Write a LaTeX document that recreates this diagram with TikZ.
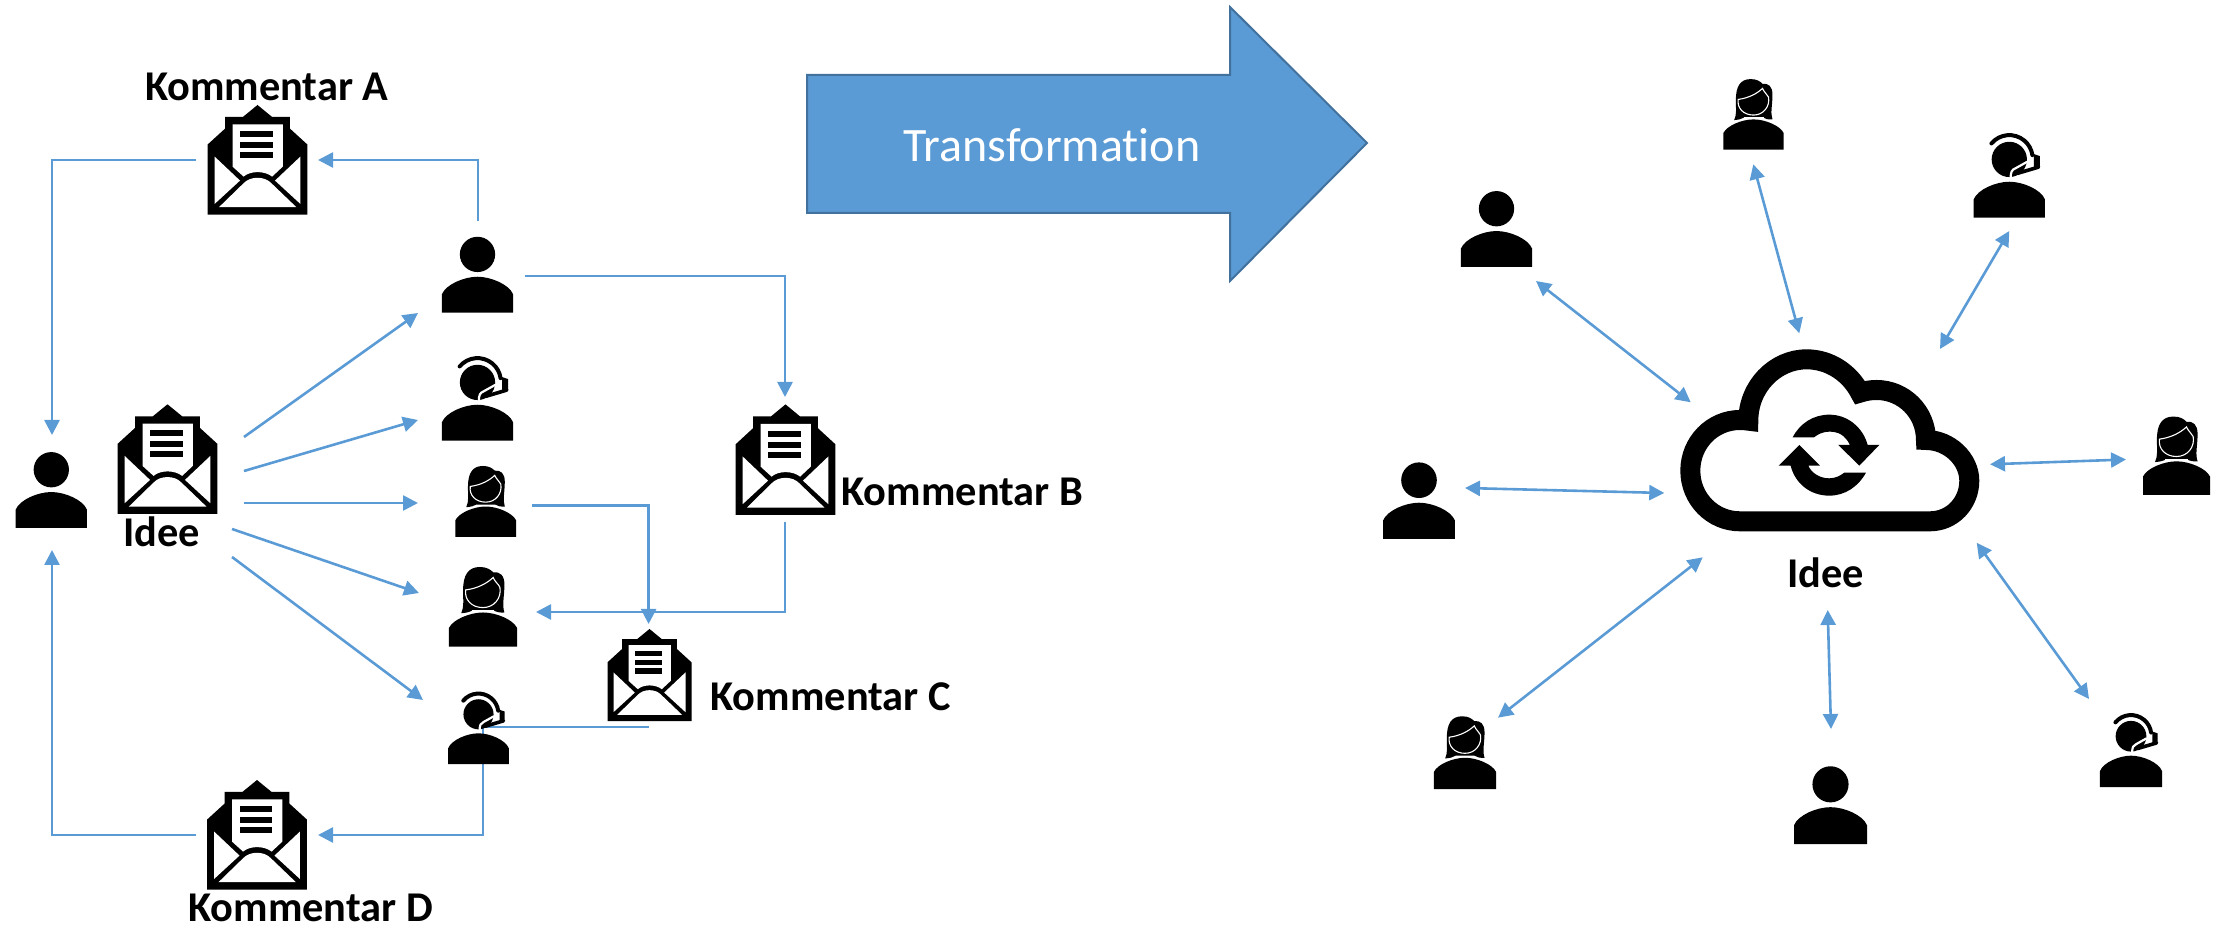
\documentclass[tikz,border=0pt]{standalone}
\usepackage{fontspec}
\setmainfont{Carlito}[Ligatures=NoCommon]
\usetikzlibrary{arrows.meta,positioning}
\definecolor{LinkBlue}{HTML}{5B9BD5}
\definecolor{EdgeBlue}{HTML}{41719C}
\tikzset{
    link/.style={draw=LinkBlue,line width=1.3pt,-{Triangle[length=7.5pt,width=7.5pt]}},
    dlink/.style={draw=LinkBlue,line width=1.3pt,{Triangle[length=7.5pt,width=7.5pt]}-{Triangle[length=7.5pt,width=7.5pt]}},
    plain/.style={draw=LinkBlue,line width=1.3pt},
    label/.style={anchor=base west,inner sep=0pt,font=\fontsize{21.2}{25}\selectfont\bfseries},
    person/.pic={
        \fill[black] (0,-175) circle (53);
        \fill[black] (-107,0) -- (-107,-55) .. controls (-95,-85) and (-40,-108) .. (0,-108)
            .. controls (40,-108) and (95,-85) .. (107,-55) -- (107,0) -- cycle;
    },
    agent/.pic={
        \fill[black] (0,-175) circle (53);
        \draw[white,line width=1.1pt] (54,-168) -- (18,-148) .. controls (8,-144) and (4,-138) .. (4,-118);
        \draw[black,line width=2pt,line cap=round] (0,-178) ++(220:70) arc[start angle=220,end angle=352,radius=70];
        \fill[black] (74,-191) -- (92,-185) -- (92,-150) -- (74,-145) -- cycle;
        \draw[black,line width=1.8pt,line cap=round] (88,-152) -- (24,-133);
        \fill[black] (-107,0) -- (-107,-55) .. controls (-95,-85) and (-40,-108) .. (0,-108)
            .. controls (40,-108) and (95,-85) .. (107,-55) -- (107,0) -- cycle;
    },
    woman/.pic={
        \fill[black] (-58,-89) .. controls (-50,-105) and (-53,-125) .. (-53,-149)
            .. controls (-53,-190) and (-40,-212) .. (-8,-212)
            .. controls (10,-212) and (20,-205) .. (27,-198)
            .. controls (45,-200) and (57,-190) .. (57,-165)
            .. controls (57,-135) and (50,-110) .. (57,-91)
            .. controls (45,-90) and (35,-92) .. (28,-97) -- (-28,-97)
            .. controls (-35,-92) and (-45,-90) .. (-58,-89) -- cycle;
        \draw[white,line width=.55pt,fill=black] (-46,-151) .. controls (-15,-155) and (10,-168) .. (27,-184)
            .. controls (32,-172) and (40,-168) .. (45,-158)
            .. controls (50,-130) and (30,-104) .. (0,-104)
            .. controls (-30,-104) and (-50,-125) .. (-46,-151) -- cycle;
        \fill[white] (-30,-97) -- (30,-97) -- (30,-88) -- (-30,-88) -- cycle;
        \fill[black] (-90.5,0) -- (-90.5,-50) .. controls (-80,-72) and (-35,-91) .. (0,-91)
            .. controls (35,-91) and (80,-72) .. (90.5,-50) -- (90.5,0) -- cycle;
    },
    letter/.pic={
        \fill[black] (0,0) -- (41,36) -- (91,36) -- (91,71) -- (140,119) -- (140,329) -- (-140,329)
            -- (-140,119) -- (-91,71) -- (-91,36) -- (-41,36) -- cycle;
        \fill[white] (-70,58) -- (71,58) -- (71,185) -- (41,215) .. controls (20,197) and (-20,197) .. (-39,215)
            -- (-70,185) -- cycle;
        \fill[white] (-120,155) -- (-49,227) -- (-120,297) -- cycle;
        \fill[white] (120,155) -- (49,227) -- (120,297) -- cycle;
        \fill[white] (-108,307) -- (-39,235) .. controls (-20,213) and (20,213) .. (39,235) -- (109,307) -- cycle;
        \fill[black] (-49,78) rectangle (43,96);
        \fill[black] (-49,111) rectangle (43,129);
        \fill[black] (-49,141) rectangle (43,159);
    },
}

\begin{document}
\begin{tikzpicture}[x=0.5pt,y=-0.5pt]

    \useasboundingbox (0,0) rectangle (2224,930);

    % big arrow
    \filldraw[draw=EdgeBlue,fill=LinkBlue,line width=1pt]
        (807,75) -- (1230,75) -- (1230,7) -- (1367,143) -- (1230,281) -- (1230,213) -- (807,213) -- cycle;
    \node[text=white,font=\fontsize{24}{28}\selectfont,inner sep=0pt] (transText) at (1052,145) {Transformation};

    % free ends on the left
    \coordinate (ideaA) at (244,437);
    \coordinate (ideaB) at (244,471);
    \coordinate (ideaC) at (244,503);
    \coordinate (ideaD) at (232,529);
    \coordinate (ideaE) at (232,557);
    \coordinate (tipA) at (418,313);
    \coordinate (tipB) at (418,420);
    \coordinate (tipC) at (418,503);
    \coordinate (tipD) at (419,593);
    \coordinate (tipE) at (423,700);
    \coordinate (outA) at (196,160);
    \coordinate (inA) at (318,160);
    \coordinate (backA) at (52,435);
    \coordinate (outD) at (196,835);
    \coordinate (inD) at (318,835);
    \coordinate (backD) at (52,550);
    \coordinate (topUp) at (478,221);
    \coordinate (topRight) at (525,276);
    \coordinate (inB) at (785,397);
    \coordinate (outB) at (785,522);
    \coordinate (inW) at (536,612);
    \coordinate (womanOut) at (532,505.5);
    \coordinate (inC) at (648.6,624);
    \coordinate (outC) at (648.6,727);
    \coordinate (lowBend) at (483,727);

    % fan from the idea
    \draw[link] (ideaA) -- (tipA);
    \draw[link] (ideaB) -- (tipB);
    \draw[link] (ideaC) -- (tipC);
    \draw[link] (ideaD) -- (tipD);
    \draw[link] (ideaE) -- (tipE);

    % comment routes
    \draw[link] (outA) -| (backA);
    \draw[link] (topUp) |- (inA);
    \draw[link] (topRight) -| (inB);
    \draw[link] (outB) |- (inW);
    \draw[link] (womanOut) -| (inC);
    \draw[plain] (outC) -- (lowBend);
    \draw[link] (lowBend) |- (inD);
    \draw[link] (outD) -| (backD);

    % icons on the left
    \pic[scale=.333] (personIn) at (51.3,528) {person};
    \pic[scale=.333] (personTop) at (477.5,312.7) {person};
    \pic[scale=.333] (agentTop) at (477.5,440.7) {agent};
    \pic[scale=.335] (womanTop) at (485.7,537) {woman};
    \pic[scale=.376] (womanLow) at (483,646.7) {woman};
    \pic[scale=.284] (agentLow) at (478.5,764) {agent};
    \pic[xscale=.357,yscale=.333] (letterIdea) at (167.5,404.3) {letter};
    \pic[xscale=.357,yscale=.333] (letterA) at (257.5,105) {letter};
    \pic[xscale=.357,yscale=.336] (letterB) at (785.5,404.4) {letter};
    \pic[xscale=.3,yscale=.28] (letterC) at (649.5,629) {letter};
    \pic[xscale=.357,yscale=.333] (letterD) at (257,780) {letter};

    % labels on the left
    \node[label] (textA) at (144.6,100.7) {Kommentar A};
    \node[label] (textB) at (841,505.5) {Kommentar B};
    \node[label] (textC) at (710,711) {Kommentar C};
    \node[label] (textD) at (188,921.7) {Kommentar D};
    \node[label] (textIdea) at (123,546.7) {Idee};

    % cloud
    \begin{scope}[shift={(1600,320)},scale=.3333]
        \draw[black,line width=10pt] (420,604) -- (990,604) .. controls (1056,604) and (1108,550) .. (1108,482)
            .. controls (1108,418) and (1048,360) .. (978,360)
            .. controls (978,275) and (910,210) .. (830,210) .. controls (812,210) and (795,213) .. (780,218)
            .. controls (750,160) and (690,118) .. (620,118) .. controls (525,118) and (445,200) .. (445,302)
            .. controls (430,300) and (425,300) .. (420,300)
            .. controls (337,300) and (271,368) .. (271,452) .. controls (271,536) and (337,604) .. (420,604) -- cycle;
        \fill[black] (578,352) .. controls (600,310) and (640,284) .. (688,284)
            .. controls (745,284) and (790,325) .. (803,375) -- (838,375) -- (778,437) -- (715,375) -- (750,375)
            .. controls (735,345) and (715,335) .. (688,335) .. controls (670,335) and (655,342) .. (642,352) -- cycle;
        \fill[black] (798,458) .. controls (775,500) and (735,527) .. (688,527)
            .. controls (630,527) and (585,490) .. (572,437) -- (536,437) -- (598,375) -- (660,437) -- (625,437)
            .. controls (635,460) and (660,475) .. (688,475) .. controls (705,475) and (720,468) .. (733,458) -- cycle;
    \end{scope}
    \node[label] (textCloud) at (1787,588) {Idee};

    % icons on the right
    \pic[scale=.333] (womanA) at (1753.5,149.7) {woman};
    \pic[scale=.333] (agentA) at (2009.3,217.7) {agent};
    \pic[scale=.333] (personA) at (1496.5,267) {person};
    \pic[scale=.336] (personB) at (1419,539) {person};
    \pic[scale=.37] (womanB) at (2176.5,495) {woman};
    \pic[scale=.343] (womanC) at (1465,789) {woman};
    \pic[scale=.341] (personC) at (1830.5,844) {person};
    \pic[scale=.29] (agentB) at (2131,787) {agent};

    % free ends on the right
    \coordinate (womanAend) at (1753.3,164.3);
    \coordinate (womanAcloud) at (1799.3,333.3);
    \coordinate (agentAend) at (2009.3,231);
    \coordinate (agentAcloud) at (1940,349);
    \coordinate (personAend) at (1536,281);
    \coordinate (personAcloud) at (1690.7,402.3);
    \coordinate (personBend) at (1465,488);
    \coordinate (personBcloud) at (1664.3,493);
    \coordinate (womanBend) at (2126,459.5);
    \coordinate (womanBcloud) at (1990,464.3);
    \coordinate (womanCend) at (1498,717.7);
    \coordinate (womanCcloud) at (1702.7,557.3);
    \coordinate (personCend) at (1831,729);
    \coordinate (personCcloud) at (1827.7,610);
    \coordinate (agentBend) at (2089,699);
    \coordinate (agentBcloud) at (1976.7,542.7);

    % links to the cloud
    \draw[dlink] (womanAend) -- (womanAcloud);
    \draw[dlink] (agentAend) -- (agentAcloud);
    \draw[dlink] (personAend) -- (personAcloud);
    \draw[dlink] (personBend) -- (personBcloud);
    \draw[dlink] (womanBend) -- (womanBcloud);
    \draw[dlink] (womanCend) -- (womanCcloud);
    \draw[dlink] (personCend) -- (personCcloud);
    \draw[dlink] (agentBend) -- (agentBcloud);

\end{tikzpicture}
\end{document}
